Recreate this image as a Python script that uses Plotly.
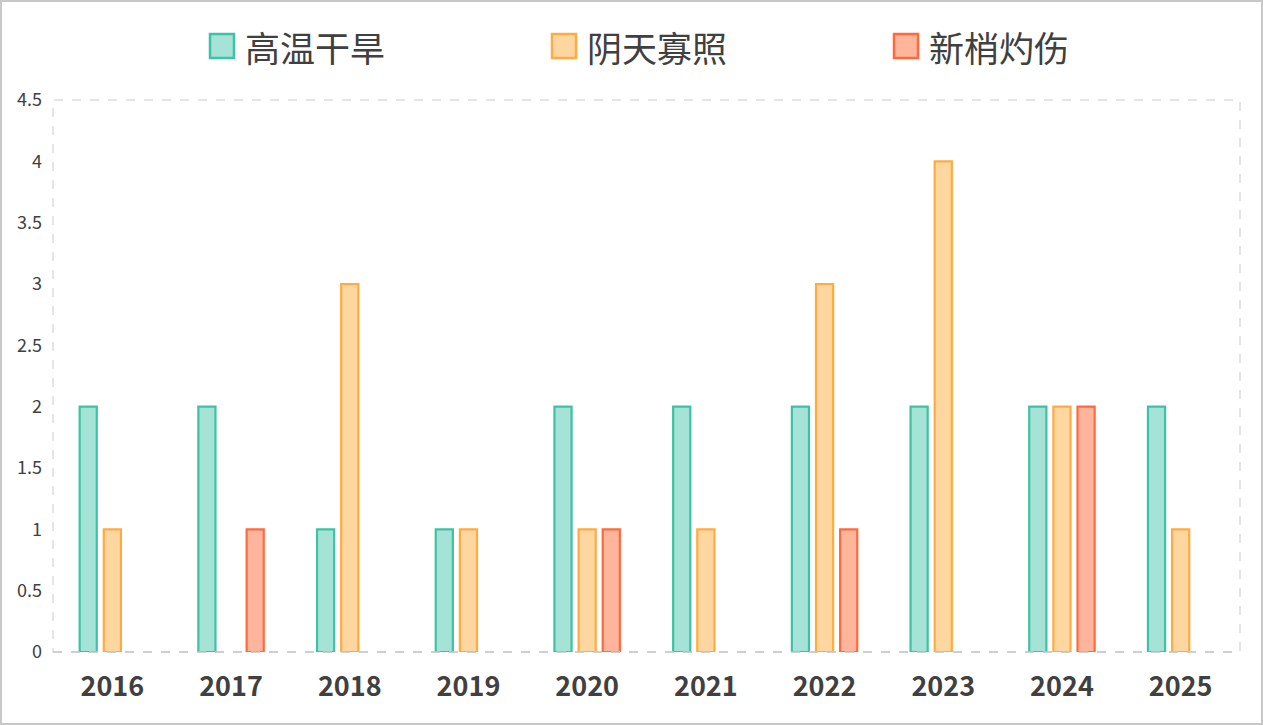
import plotly.graph_objects as go

# data
years = ['2016', '2017', '2018', '2019', '2020', '2021', '2022', '2023', '2024', '2025']
gaowen = [2, 2, 1, 1, 2, 2, 2, 2, 2, 2]
yintian = [1, None, 3, 1, 1, 1, 3, 4, 2, 1]
xinshao = [None, 1, None, None, 1, None, 1, None, 2, None]

names = ['高温干旱', '阴天寡照', '新梢灼伤']
fills = ['#a4e3d6', '#fed7a0', '#ffb59c']
edges = ['#3fc1a5', '#ffab42', '#ff6a3d']

W, H = 1263, 725
ml, mr, mt, mb = 53, 23, 100, 73
pw = W - ml - mr
ph = H - mt - mb


def px_x(p):
    return (p - ml) / pw


def px_y(p):
    return (H - mb - p) / ph


fig = go.Figure()
for name, vals, fc, ec in zip(names, [gaowen, yintian, xinshao], fills, edges):
    fig.add_trace(go.Bar(x=years, y=vals, name=name, showlegend=False,
                         marker=dict(color=fc, line=dict(color=ec, width=2.2))))

shapes = [
    # dashed plot-area frame
    dict(type='rect', xref='paper', yref='paper', x0=0, x1=1, y0=0, y1=1,
         line=dict(color='#dddddd', width=1.5, dash='dash'), layer='below'),
    dict(type='line', xref='paper', yref='paper', x0=0, x1=1, y0=0, y1=0,
         line=dict(color='#c8c8c8', width=1.5, dash='dash'), layer='above'),
    # outer border of the whole chart
    dict(type='rect', xref='paper', yref='paper',
         x0=px_x(1), x1=px_x(W - 1), y0=px_y(H - 1), y1=px_y(1),
         line=dict(color='#c8c8c8', width=2)),
]
annotations = []

# legend drawn by hand (big rounded swatches like the original)
leg_x = [210, 552, 894]
leg_y = 46
for i, name in enumerate(names):
    x0 = leg_x[i]
    shapes.append(dict(type='rect', xref='paper', yref='paper',
                       x0=px_x(x0), x1=px_x(x0 + 24),
                       y0=px_y(leg_y + 12), y1=px_y(leg_y - 12),
                       fillcolor=fills[i], line=dict(color=edges[i], width=2.5)))
    annotations.append(dict(xref='paper', yref='paper', x=px_x(x0 + 33), y=px_y(leg_y),
                            xanchor='left', yanchor='middle', showarrow=False,
                            text=name, font=dict(size=35, color='#404040')))

fig.update_layout(
    width=W, height=H,
    margin=dict(l=ml, r=mr, t=mt, b=mb),
    paper_bgcolor='white', plot_bgcolor='white',
    barmode='group', bargap=0.39, bargroupgap=0.29,
    font=dict(family='Noto Sans CJK SC', color='#333333'),
    showlegend=False,
    xaxis=dict(showgrid=False, showline=False, zeroline=False,
               tickfont=dict(size=27, color='#404040', weight='bold'),
               ticks='', ticklabelstandoff=16),
    yaxis=dict(range=[0, 4.5], dtick=0.5, showgrid=False, showline=False,
               zeroline=False, tickfont=dict(size=18, color='#404040'),
               ticks='', ticklabelstandoff=10),
    shapes=shapes,
    annotations=annotations,
)

fig.write_html('out.html', config={'displayModeBar': False},
               post_script="document.body.style.margin='0px';")
